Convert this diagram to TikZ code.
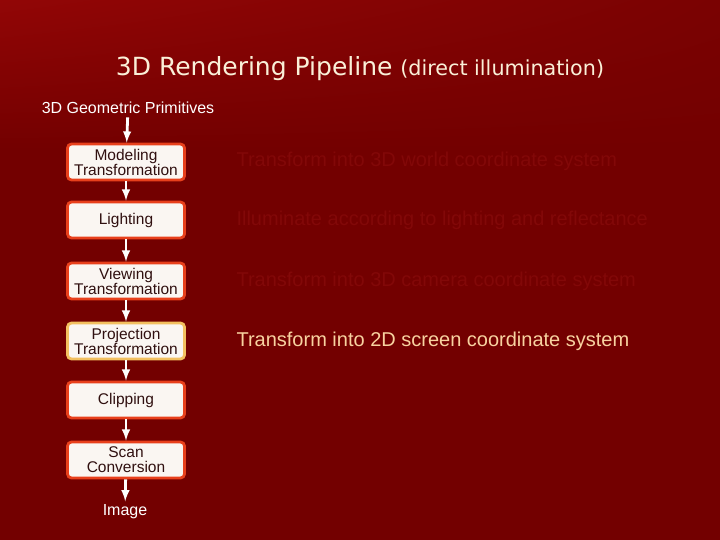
\documentclass[tikz,border=0pt]{standalone}
\usepackage{fontspec}
\setmainfont{Liberation Sans}
\newfontfamily\titlefont{DejaVu Sans}
\usetikzlibrary{shadings}

\definecolor{bgmain}{HTML}{730000}
\definecolor{bgtl}{HTML}{920606}
\definecolor{bgtr}{HTML}{7A0202}
\definecolor{boxred}{HTML}{E8401C}
\definecolor{boxgold}{HTML}{F2C060}
\definecolor{boxfill}{HTML}{FAF6F2}
\definecolor{boxtext}{HTML}{301010}
\definecolor{titlecol}{HTML}{FAF0D8}
\definecolor{dimtext}{HTML}{820808}
\definecolor{hitext}{HTML}{F8D2A0}

\begin{document}
\begin{tikzpicture}[x=1pt,y=-1pt,
	block/.style ={rectangle, rounded corners=4pt, draw=boxred, line width=2.8pt, fill=boxfill, text=boxtext, align=center, minimum width=117pt, minimum height=36pt, inner sep=0pt, font=\fontsize{15.5}{15}\selectfont},
	note/.style ={anchor=west, text=dimtext, font=\fontsize{20}{22}\selectfont},
	flow/.style ={draw=white, line width=2.8pt, -latex}]
	\fill[bgmain] (0,0) rectangle (720,540);
	\shade[upper left=bgtl, upper right=bgtr, lower left=bgmain, lower right=bgmain] (0,0) rectangle (720,150);
	\useasboundingbox (0,0) rectangle (720,540);
	% title
	\node[text=titlecol] (title) at (360,69) {\titlefont\fontsize{25}{28}\selectfont 3D Rendering Pipeline \fontsize{20.7}{28}\selectfont(direct illumination)};
	% pipeline
	\node[text=white, font=\fontsize{16}{18}\selectfont] (n0) at (128,108) {3D Geometric Primitives};
	\node[block] (n1) at (126,162) {Modeling\\Transformation};
	\node[block] (n2) at (126,220) {Lighting};
	\node[block] (n3) at (126,281) {Viewing\\Transformation};
	\node[block, draw=boxgold] (n4) at (126,341) {Projection\\Transformation};
	\node[block] (n5) at (126,400) {Clipping};
	\node[block] (n6) at (126,460) {Scan\\Conversion};
	\node[text=white, font=\fontsize{16}{18}\selectfont] (n7) at (125,512) {Image};
	\draw[flow] (n0) to (n1);
	\draw[flow] (n1) to (n2);
	\draw[flow] (n2) to (n3);
	\draw[flow] (n3) to (n4);
	\draw[flow] (n4) to (n5);
	\draw[flow] (n5) to (n6);
	\draw[flow] (n6) to (n7);
	% notes
	\node[note] (t1) at (233,161) {Transform into 3D world coordinate system};
	\node[note] (t2) at (233,220) {Illuminate according to lighting and reflectance};
	\node[note] (t3) at (233,281) {Transform into 3D camera coordinate system};
	\node[note, text=hitext] (t4) at (233,341) {Transform into 2D screen coordinate system};
\end{tikzpicture}
\end{document}
